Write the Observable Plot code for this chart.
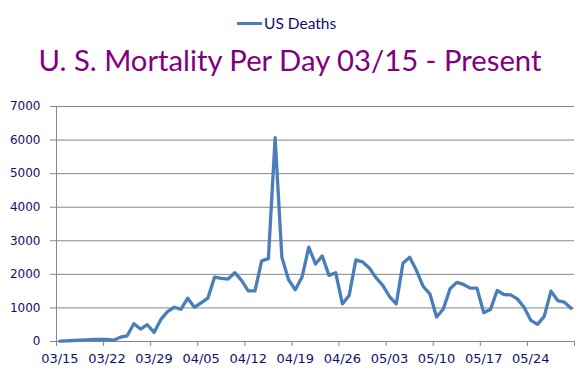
<!DOCTYPE html>
<html>
<head>
<meta charset="utf-8">
<script src="https://cdn.jsdelivr.net/npm/d3@7"></script>
<script src="https://cdn.jsdelivr.net/npm/@observablehq/plot@0.6"></script>
<style>
  html, body { margin: 0; padding: 0; background: #fff; }
  #wrap { position: relative; width: 580px; height: 389px; overflow: hidden; }
  #legend { position: absolute; left: 0; top: 0; width: 580px; height: 44px; }
  #title { position: absolute; left: 0; top: 40px; width: 580px; text-align: center;
           font-family: Lato, "Open Sans", sans-serif; color: #800080; white-space: nowrap; }
  #chart { position: absolute; left: 0; top: 90px; }
  #chart svg text { font-family: "DejaVu Sans", Verdana, sans-serif; }
</style>
</head>
<body>
<div id="wrap">
  <div id="legend">
    <svg width="580" height="44">
      <line x1="237" x2="262" y1="23.5" y2="23.5" stroke="#4a7ebb" stroke-width="3"></line>
      <text id="legtext" x="264" y="23" dominant-baseline="central" fill="#10106a"
            font-family="Lato, 'Open Sans', sans-serif" font-size="15.5">US Deaths</text>
    </svg>
  </div>
  <div id="title">U. S. Mortality Per Day 03/15 - Present</div>
  <div id="chart"></div>
</div>
<script>
const categories = [
  "03/15","03/16","03/17","03/18","03/19","03/20","03/21","03/22","03/23","03/24",
  "03/25","03/26","03/27","03/28","03/29","03/30","03/31","04/01","04/02","04/03",
  "04/04","04/05","04/06","04/07","04/08","04/09","04/10","04/11","04/12","04/13",
  "04/14","04/15","04/16","04/17","04/18","04/19","04/20","04/21","04/22","04/23",
  "04/24","04/25","04/26","04/27","04/28","04/29","04/30","05/01","05/02","05/03",
  "05/04","05/05","05/06","05/07","05/08","05/09","05/10","05/11","05/12","05/13",
  "05/14","05/15","05/16","05/17","05/18","05/19","05/20","05/21","05/22","05/23",
  "05/24","05/25","05/26","05/27","05/28","05/29","05/30"
];
const deaths = [
  10, 20, 30, 40, 50, 60, 60, 60, 40, 130,
  170, 530, 370, 500, 270, 650, 890, 1020, 960, 1290,
  1020, 1150, 1290, 1920, 1880, 1860, 2050, 1820, 1510, 1510,
  2400, 2470, 6070, 2510, 1840, 1540, 1920, 2810, 2310, 2550,
  1970, 2050, 1120, 1370, 2430, 2370, 2190, 1900, 1670, 1340,
  1120, 2330, 2510, 2120, 1640, 1420, 730, 970, 1570, 1760,
  1700, 1590, 1590, 860, 950, 1520, 1400, 1390, 1270, 1020,
  630, 510, 750, 1500, 1220, 1170, 990
];
const tickLabels = ["03/15","03/22","03/29","04/05","04/12","04/19","04/26","05/03","05/10","05/17","05/24"];
const yTicks = [0, 1000, 2000, 3000, 4000, 5000, 6000, 7000];
const seriesName = "US Deaths";

const textColor = "#10106a";
const gridColor = "#868686";
const lineColor = "#4a7ebb";

// fit title width to the reference
(function fitTitle() {
  const el = document.getElementById("title");
  let size = 30;
  el.style.fontSize = size + "px";
  const span = document.createElement("span");
  span.textContent = el.textContent;
  span.style.font = getComputedStyle(el).font;
  span.style.visibility = "hidden";
  span.style.position = "absolute";
  document.body.appendChild(span);
  const w = span.getBoundingClientRect().width;
  document.body.removeChild(span);
  size = size * 503 / w;
  el.style.fontSize = size.toFixed(2) + "px";
  el.style.lineHeight = "40px";
})();

const data = deaths.map((v, i) => ({i, v, date: categories[i]}));
const boundaries = d3.range(0, categories.length + 1, 7).map(k => k - 0.5);

const chart = Plot.plot({
  width: 580,
  height: 299,
  marginLeft: 56,
  marginRight: 6,
  marginTop: 16,
  marginBottom: 48,
  style: {fontFamily: "'DejaVu Sans', Verdana, sans-serif", background: "white"},
  x: {type: "linear", domain: [-0.5, categories.length - 0.5], axis: null},
  y: {domain: [0, 7000], axis: null},
  marks: [
    Plot.ruleY(yTicks, {y: d => d, stroke: gridColor, strokeWidth: 1}),
    Plot.ruleX([-0.5], {x: d => d, stroke: gridColor}),
    Plot.axisY({ticks: yTicks, tickSize: 6, tickPadding: 10, fontSize: 12, label: null,
                stroke: gridColor, fill: textColor, tickFormat: d => String(d)}),
    Plot.ruleX(boundaries, {x: d => d, y1: 0, y2: 0, insetBottom: -5, stroke: gridColor}),
    Plot.text(tickLabels, {x: d => categories.indexOf(d), frameAnchor: "bottom", dy: 21,
                           text: d => d, fontSize: 13, fill: textColor}),
    Plot.line(data, {x: "i", y: "v", stroke: lineColor, strokeWidth: 3.3,
                     strokeLinejoin: "round", strokeLinecap: "round"})
  ]
});
document.getElementById("chart").appendChild(chart);
</script>
</body>
</html>
